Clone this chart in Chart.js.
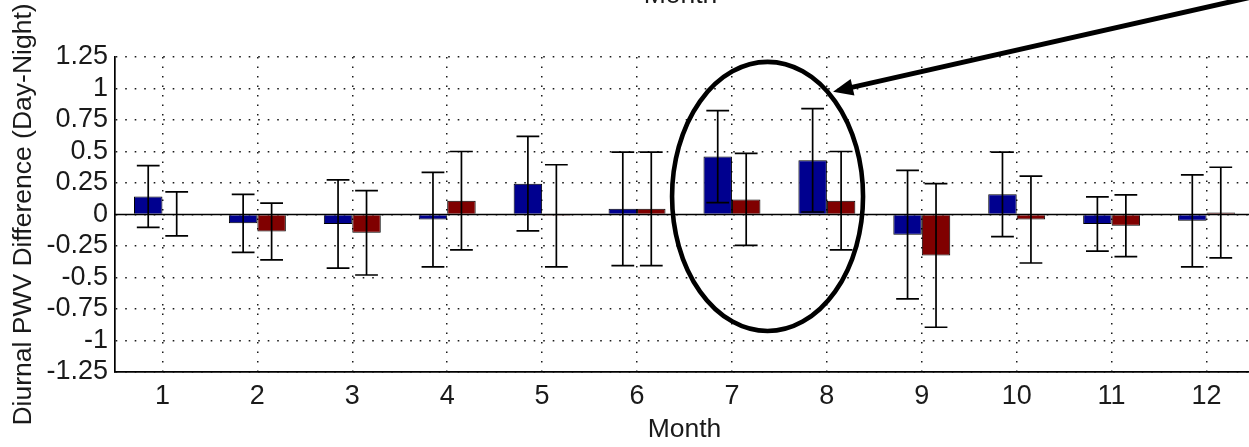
<!DOCTYPE html>
<html>
<head>
<meta charset="utf-8">
<script src="https://cdn.jsdelivr.net/npm/chart.js@4.4.1/dist/chart.umd.min.js"></script>
<style>
  html, body { margin: 0; padding: 0; background: #fff; overflow: hidden; }
  #wrap { position: relative; width: 1270px; height: 447px; }
</style>
</head>
<body>
<div id="wrap"><canvas id="c" width="1270" height="447"></canvas></div>
<script>
// Monthly diurnal PWV difference (day minus night), two groups, mean ± error
const months = ['1', '2', '3', '4', '5', '6', '7', '8', '9', '10', '11', '12'];

const groupAMean = [0.143, -0.07, -0.075, -0.04, 0.245, 0.045, 0.46, 0.43, -0.16, 0.16, -0.075, -0.05];
const groupAErr  = [0.245, 0.23, 0.35, 0.375, 0.375, 0.45, 0.365, 0.41, 0.51, 0.335, 0.215, 0.365];

const groupBMean = [0.005, -0.135, -0.145, 0.11, -0.01, 0.045, 0.12, 0.11, -0.325, -0.04, -0.09, 0.015];
const groupBErr  = [0.175, 0.225, 0.335, 0.39, 0.405, 0.45, 0.365, 0.39, 0.57, 0.345, 0.245, 0.36];

const yTickLabels = ['-1.25', '-1', '-0.75', '-0.5', '-0.25', '0', '0.25', '0.5', '0.75', '1', '1.25'];

const errors = [groupAErr, groupBErr];

const tickFont = { family: "'Liberation Sans', Arial, sans-serif", size: 27, lineHeight: 1 };
const titleFont = { family: "'Liberation Sans', Arial, sans-serif", size: 26.5, lineHeight: 1.2 };
const gridDash = [1.6, 7.9];

// Error bars, zero baseline and the highlight ellipse/arrow
const overlay = {
  id: 'overlay',
  afterDatasetsDraw(chart) {
    const { ctx, chartArea, scales: { x, y } } = chart;
    ctx.save();
    // bar baseline
    ctx.strokeStyle = '#000';
    ctx.lineWidth = 1.3;
    ctx.beginPath();
    const y0 = y.getPixelForValue(0);
    ctx.moveTo(chartArea.left, y0);
    ctx.lineTo(chartArea.right, y0);
    ctx.stroke();
    // error bars
    ctx.lineWidth = 1.7;
    chart.data.datasets.forEach((ds, di) => {
      const meta = chart.getDatasetMeta(di);
      meta.data.forEach((bar, i) => {
        const m = ds.data[i], e = errors[di][i];
        const yt = y.getPixelForValue(m + e);
        const yb = y.getPixelForValue(m - e);
        const half = bar.width * 0.4;
        ctx.beginPath();
        ctx.moveTo(bar.x, yt); ctx.lineTo(bar.x, yb);
        ctx.moveTo(bar.x - half, yt); ctx.lineTo(bar.x + half, yt);
        ctx.moveTo(bar.x - half, yb); ctx.lineTo(bar.x + half, yb);
        ctx.stroke();
      });
    });
    ctx.restore();
  },
  afterDraw(chart) {
    const { ctx, chartArea, scales: { x, y } } = chart;
    ctx.save();
    ctx.strokeStyle = '#000';
    ctx.fillStyle = '#000';
    ctx.lineWidth = 4.6;
    // ellipse around July/August
    const cx = x.getPixelForValue(6.375), cy = y.getPixelForValue(0.143);
    const rx = x.getPixelForValue(7.381) - cx;
    const ry = cy - y.getPixelForValue(1.211);
    ctx.beginPath();
    ctx.ellipse(cx, cy, rx, ry, 0, 0, Math.PI * 2);
    ctx.stroke();
    // arrow pointing at the ellipse
    ctx.lineWidth = 5;
    const tx = x.getPixelForValue(7.065), ty = y.getPixelForValue(0.975);
    const sx = x.getPixelForValue(11.5), sy = y.getPixelForValue(1.73);
    const ang = Math.atan2(ty - sy, tx - sx);
    const headLen = 20, headHalf = 8.5;
    const bx = tx - headLen * Math.cos(ang), by = ty - headLen * Math.sin(ang);
    ctx.beginPath();
    ctx.moveTo(sx, sy); ctx.lineTo(bx + 2 * Math.cos(ang), by + 2 * Math.sin(ang));
    ctx.stroke();
    ctx.beginPath();
    ctx.moveTo(tx, ty);
    ctx.lineTo(bx + headHalf * Math.sin(ang), by - headHalf * Math.cos(ang));
    ctx.lineTo(bx - headHalf * Math.sin(ang), by + headHalf * Math.cos(ang));
    ctx.closePath();
    ctx.fill();
    // axis label of the panel above, cut by the top edge
    ctx.fillStyle = '#1a1a1a';
    ctx.font = "26.5px 'Liberation Sans', Arial, sans-serif";
    ctx.textAlign = 'center';
    ctx.textBaseline = 'alphabetic';
    ctx.fillText('Month', (chartArea.left + chartArea.right) / 2 - 4, 3);
    ctx.restore();
  }
};

new Chart(document.getElementById('c'), {
  type: 'bar',
  data: {
    labels: months,
    datasets: [
      { label: 'A', data: groupAMean, backgroundColor: 'rgb(0,0,143)', borderColor: '#000', borderWidth: 1 },
      { label: 'B', data: groupBMean, backgroundColor: 'rgb(128,0,0)', borderColor: '#000', borderWidth: 1 }
    ]
  },
  options: {
    responsive: false,
    devicePixelRatio: 1,
    animation: false,
    categoryPercentage: 0.6,
    barPercentage: 1.0,
    layout: { padding: { top: 57, right: 16, left: 0, bottom: 0 } },
    plugins: { legend: { display: false }, tooltip: { enabled: false } },
    scales: {
      x: {
        afterFit(scale) { scale.height = 75; },
        grid: { offset: false, color: '#1a1a1a', lineWidth: 1.5, drawTicks: false },
        border: { display: true, color: '#000', width: 1.7, dash: gridDash },
        ticks: { color: '#1a1a1a', font: tickFont, padding: 11, maxRotation: 0, autoSkip: false },
        title: { display: true, text: 'Month', color: '#1a1a1a', font: titleFont, padding: { top: 0, bottom: 1 } }
      },
      y: {
        min: -1.25, max: 1.25,
        afterFit(scale) { scale.width = 115; },
        grid: { color: '#1a1a1a', lineWidth: 1.5, drawTicks: false },
        border: { display: true, color: '#000', width: 1.7, dash: gridDash },
        ticks: {
          stepSize: 0.25, autoSkip: false, color: '#1a1a1a', font: tickFont, padding: 7,
          callback: (v, i) => yTickLabels[i]
        },
        title: { display: true, text: 'Diurnal PWV Difference (Day-Night)', color: '#1a1a1a', font: titleFont, padding: { top: 8, bottom: 0 } }
      }
    }
  },
  plugins: [overlay]
});
</script>
</body>
</html>
